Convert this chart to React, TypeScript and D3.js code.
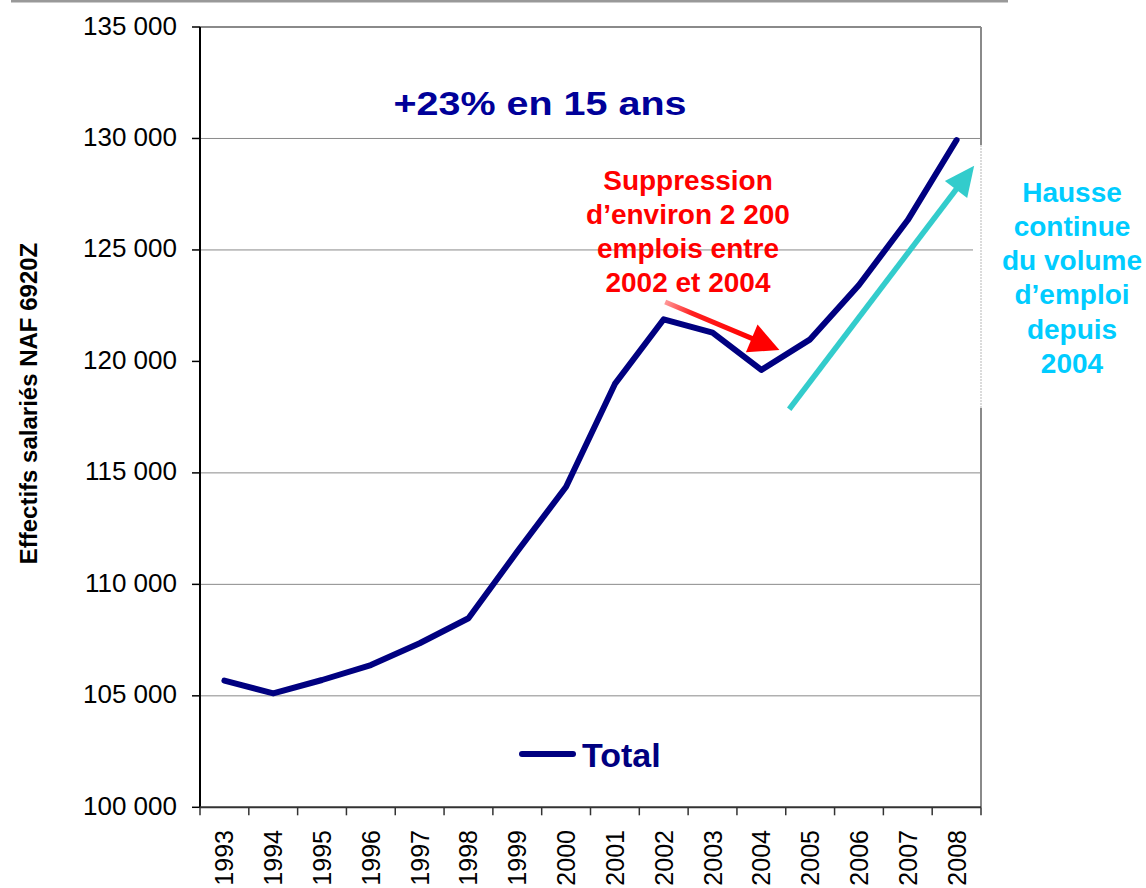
import React from "react";
import * as d3 from "d3";

const years = [1993, 1994, 1995, 1996, 1997, 1998, 1999, 2000, 2001, 2002, 2003, 2004, 2005, 2006, 2007, 2008];
const totals = [105680, 105110, 105710, 106380, 107360, 108480, 111470, 114380, 118990, 121890, 121290, 119620, 120990, 123430, 126340, 129930];
const yTicks = [100000, 105000, 110000, 115000, 120000, 125000, 130000, 135000];
// 120 000 gridline is hidden in the reference
const gridValues = [105000, 110000, 115000, 125000, 130000];
const redArrow = { from: [2002.03, 122665], to: [2004.37, 120513] };
const cyanArrow = { from: [2004.57, 117853], to: [2008.36, 128779] };
const redLines = ["Suppression", "d\u2019environ 2 200", "emplois entre", "2002 et 2004"];
const cyanLines = ["Hausse", "continue", "du volume", "d\u2019emploi", "depuis", "2004"];
const title = "+23% en 15 ans";
const yTitle = "Effectifs salariés NAF 6920Z";
const seriesName = "Total";

const W = 1146, H = 888;
const L = 200, R = 981, T = 27, B = 807.3;
const FONT = "'Liberation Sans', Arial, Helvetica, sans-serif";
const NAVY = "#000080";

const fmt = (v: number) => d3.format(",")(v).replace(/,/g, " ");

function arrow(x: any, y: any, a: { from: number[]; to: number[] }, headLen: number, headW: number) {
  const x0 = x(a.from[0]), y0 = y(a.from[1]);
  const x1 = x(a.to[0]), y1 = y(a.to[1]);
  const dx = x1 - x0, dy = y1 - y0;
  const len = Math.hypot(dx, dy);
  const ux = dx / len, uy = dy / len;
  const bx = x1 - ux * headLen, by = y1 - uy * headLen;
  const px = -uy, py = ux;
  const head = [
    [x1, y1],
    [bx + px * headW / 2, by + py * headW / 2],
    [bx - px * headW / 2, by - py * headW / 2],
  ];
  return { x0, y0, bx: bx + ux * 2, by: by + uy * 2, head: head.map((p) => p.join(",")).join(" ") };
}

export default function App() {
  const x = d3.scaleLinear().domain([1992.5, 2008.5]).range([L, R]);
  const y = d3.scaleLinear().domain([100000, 135000]).range([B, T]);
  const line = d3
    .line<number>()
    .x((_, i) => x(years[i]))
    .y((d) => y(d));
  const bounds = d3.range(years.length + 1).map((i) => 1992.5 + i);
  const ra = arrow(x, y, redArrow, 30, 30);
  const ca = arrow(x, y, cyanArrow, 30, 28);

  return (
    <svg width={W} height={H} style={{ position: "absolute", left: 0, top: 0, background: "#fff" }} fontFamily={FONT}>
      <defs>
        <linearGradient id="redGrad" gradientUnits="userSpaceOnUse" x1={ra.x0} y1={ra.y0} x2={ra.bx} y2={ra.by}>
          <stop offset="0" stopColor="#ff9999" />
          <stop offset="0.3" stopColor="#ff2020" />
          <stop offset="1" stopColor="#ff0000" />
        </linearGradient>
      </defs>
      <rect x={0} y={0} width={W} height={H} fill="#fff" />
      {/* top rule */}
      <line x1={11} x2={1008} y1={1} y2={1} stroke="#999" strokeWidth={3} />

      {/* gridlines */}
      {gridValues.map((v) => (
        <line key={v} x1={L} x2={R} y1={y(v)} y2={y(v)} stroke="#8a8a8a" strokeWidth={1} />
      ))}
      {/* plot border top/right */}
      <line x1={L} x2={R} y1={T} y2={T} stroke="#8a8a8a" strokeWidth={2} />
      <line x1={R} x2={R} y1={T} y2={B} stroke="#8a8a8a" strokeWidth={2} />
      {/* white text box covering part of right border */}
      <rect x={973} y={145} width={W - 973} height={263} fill="#fff" />
      <line x1={R} x2={R} y1={145} y2={408} stroke="#d0d0d0" strokeWidth={1.5} strokeDasharray="2,1" />

      {/* y axis */}
      <line x1={L} x2={L} y1={T} y2={B} stroke="#000" strokeWidth={2} />
      {yTicks.map((v) => (
        <g key={v}>
          <line x1={L - 8} x2={L} y1={y(v)} y2={y(v)} stroke="#000" strokeWidth={1.5} />
          <text x={177} y={y(v) + 7.5} textAnchor="end" fontSize={26} fill="#000">
            {fmt(v)}
          </text>
        </g>
      ))}

      {/* x axis */}
      <line x1={L} x2={R} y1={B} y2={B} stroke="#333" strokeWidth={2} />
      {bounds.map((b) => (
        <line key={b} x1={x(b)} x2={x(b)} y1={B} y2={B + 8} stroke="#333" strokeWidth={1.5} />
      ))}
      {years.map((yr) => (
        <text
          key={yr}
          transform={`translate(${x(yr) + 9},${830}) rotate(-90)`}
          textAnchor="end"
          fontSize={25}
          fill="#000"
        >
          {yr}
        </text>
      ))}

      {/* y title */}
      <text
        transform={`translate(37,${403.5}) rotate(-90)`}
        textAnchor="middle"
        fontSize={24}
        fontWeight="bold"
        fill="#000"
      >
        {yTitle}
      </text>

      {/* title */}
      <text x={540} y={115} textAnchor="middle" fontSize={33} fontWeight="bold" fill="#000099" textLength={293} lengthAdjust="spacingAndGlyphs">
        {title}
      </text>

      {/* series line */}
      <path d={line(totals) || ""} fill="none" stroke={NAVY} strokeWidth={6} strokeLinejoin="round" strokeLinecap="round" />

      {/* red arrow */}
      <line x1={ra.x0} y1={ra.y0} x2={ra.bx} y2={ra.by} stroke="url(#redGrad)" strokeWidth={5} />
      <polygon points={ra.head} fill="#ff0000" />
      {redLines.map((s, i) => (
        <text key={s} x={688} y={190 + i * 34} textAnchor="middle" fontSize={28} fontWeight="bold" fill="#ff0000">
          {s}
        </text>
      ))}

      {/* cyan arrow */}
      <line x1={ca.x0} y1={ca.y0} x2={ca.bx} y2={ca.by} stroke="#33cccc" strokeWidth={5.5} />
      <polygon points={ca.head} fill="#33cccc" />
      {cyanLines.map((s, i) => (
        <text key={s} x={1072} y={201.5 + i * 34.3} textAnchor="middle" fontSize={28} fontWeight="bold" fill="#00ccff">
          {s}
        </text>
      ))}

      {/* legend */}
      <line x1={522} x2={573} y1={754} y2={754} stroke={NAVY} strokeWidth={6} strokeLinecap="round" />
      <text x={582} y={767} fontSize={34} fontWeight="bold" fill={NAVY}>
        {seriesName}
      </text>
    </svg>
  );
}
